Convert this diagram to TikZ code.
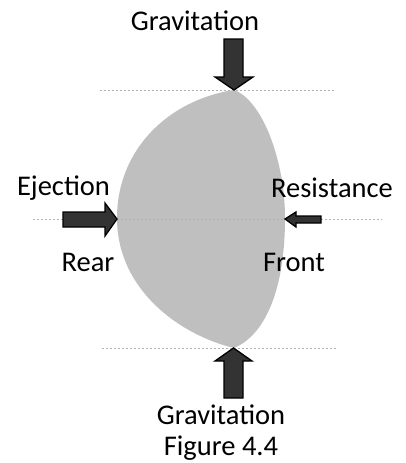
\documentclass[tikz,border=0pt]{standalone}
\usepackage{fontspec}
\setmainfont{Carlito}
\begin{document}
\begin{tikzpicture}[x=1pt,y=-1pt,
  lbl/.style={inner sep=0pt,font=\fontsize{28.5}{34}\selectfont},
  guide/.style={draw=black!30,line width=0.7pt,dash pattern=on 2pt off 2pt},
  force/.style={draw=black,fill=black!80,line width=1.3pt,line join=miter}]
\useasboundingbox (0,0) rectangle (405,463);
% guide lines
\draw[guide] (100,90) -- (335,90);
\draw[guide] (102,348) -- (338,348);
% body
\fill[black!25] (234,90) .. controls (168,100) and (117,150) .. (117,218)
  .. controls (117,290) and (180,335) .. (234,348)
  .. controls (265,335) and (285,290) .. (285,218)
  .. controls (285,160) and (262,100) .. (234,90) -- cycle;
\draw[guide] (33,219) -- (382,219);
% force arrows
\draw[force] (224,39) -- (243,39) -- (243,77) -- (253,77) -- (234,90) -- (215,77) -- (224,77) -- cycle;
\draw[force] (224,398) -- (243,398) -- (243,361) -- (252,361) -- (233.5,348) -- (215,361) -- (224,361) -- cycle;
\draw[force] (63,212) -- (105,212) -- (105,203) -- (117,219) -- (105,236) -- (105,227) -- (63,227) -- cycle;
\draw[force] (321,216) -- (296,216) -- (296,212) -- (285,219) -- (296,227) -- (296,223) -- (321,223) -- cycle;
% labels
\node[lbl] (gtop) at (195,21) {Gravitation};
\node[lbl] (ej) at (63.5,188) {Ejection};
\node[lbl] (res) at (332,188) {Resistance};
\node[lbl] (rear) at (88,262) {Rear};
\node[lbl] (front) at (294,262) {Front};
\node[lbl] (gbot) at (221,415) {Gravitation};
\node[lbl] (fig) at (221,448) {Figure 4.4};
\end{tikzpicture}
\end{document}
